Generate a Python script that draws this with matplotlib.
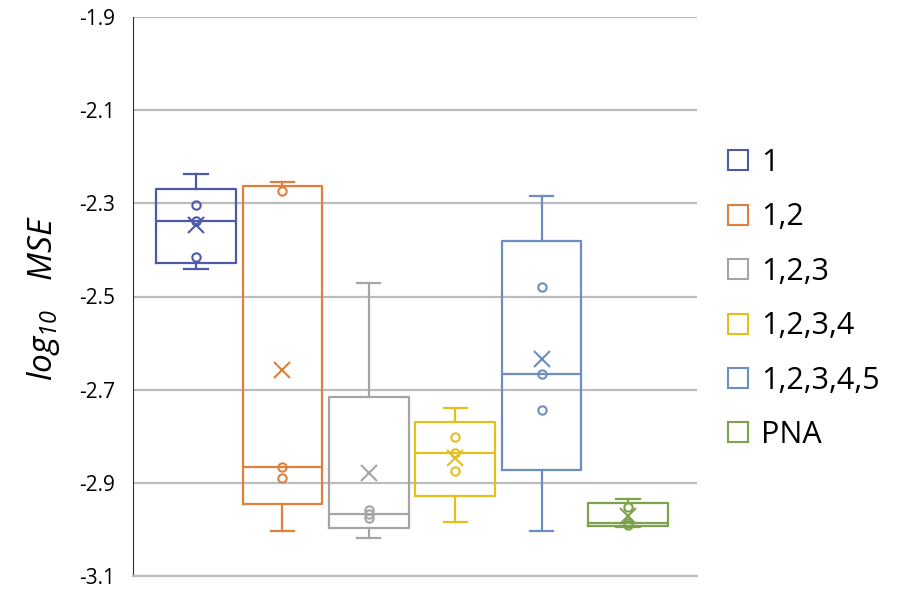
import matplotlib.pyplot as plt
import numpy as np
from matplotlib.lines import Line2D

plt.rcParams['font.family'] = ['Open Sans', 'DejaVu Sans']
plt.rcParams['mathtext.fontset'] = 'custom'
plt.rcParams['mathtext.it'] = 'Open Sans:italic'
plt.rcParams['mathtext.rm'] = 'Open Sans:italic'

# five runs per setting, log10 of the MSE
labels = ['1', '1,2', '1,2,3', '1,2,3,4', '1,2,3,4,5', 'PNA']
s1 = [-2.441, -2.415, -2.338, -2.303, -2.237]
s12 = [-3.003, -2.889, -2.866, -2.273, -2.254]
s123 = [-3.018, -2.976, -2.966, -2.959, -2.471]
s1234 = [-2.984, -2.874, -2.836, -2.801, -2.739]
s12345 = [-3.003, -2.743, -2.666, -2.479, -2.284]
spna = [-2.995, -2.990, -2.987, -2.952, -2.934]
series = [s1, s12, s123, s1234, s12345, spna]
colors = ['#4d5aa8', '#e0803c', '#a5a5a5', '#e3c01e', '#6a8fc0', '#7ca24a']

fig = plt.figure(figsize=(9.1, 5.94), dpi=100)
ax = fig.add_axes([133/910, 1-576/594, (697-133)/910, (576-17)/594])

for i, (d, c) in enumerate(zip(series, colors)):
    d = np.array(d)
    q1, med, q3 = np.percentile(d, [25, 50, 75], method='weibull')
    st = dict(med=med, q1=q1, q3=q3, whislo=d.min(), whishi=d.max(),
              mean=d.mean(), fliers=[], label=labels[i])
    pos = i + 1
    ax.bxp([st], positions=[pos], widths=0.92, capwidths=0.27,
           showfliers=False, showmeans=False, patch_artist=False,
           boxprops=dict(color=c, lw=1.6), whiskerprops=dict(color=c, lw=1.6),
           capprops=dict(color=c, lw=1.6), medianprops=dict(color=c, lw=1.6))
    inner = np.sort(d)[1:-1]
    ax.plot([pos]*len(inner), inner, 'o', ms=6, mfc='none', mec=c, mew=1.5)
    ax.plot(pos, d.mean(), 'x', ms=12, mec=c, mew=1.5)

ax.set_xlim(0.27, 6.8)
ax.set_ylim(-3.1, -1.9)
ax.set_yticks(np.arange(-3.1, -1.85, 0.2))
ax.set_yticklabels(['-3.1', '-2.9', '-2.7', '-2.5', '-2.3', '-2.1', '-1.9'])
ax.set_xticks([])
ax.tick_params(axis='y', length=0, pad=13, labelsize=15)
ax.yaxis.grid(True, color='#bcbcbc', lw=1.6)
ax.set_axisbelow(True)
for s in ['top', 'right']:
    ax.spines[s].set_visible(False)
ax.spines['left'].set_color('#303030')
ax.spines['bottom'].set_color('#bcbcbc')
ax.spines['bottom'].set_linewidth(1.6)

fig.text(43/910, 1-298/594, r'$log_{10}\ \ \ MSE$', rotation=90,
         ha='center', va='center', fontsize=24)

handles = [Line2D([], [], marker='s', ls='none', mfc='none', mec=c, ms=15, mew=1.5)
           for c in colors]
fig.legend(handles, labels, loc='center left', bbox_to_anchor=(726/910, 1-299/594),
           frameon=False, fontsize=22, handlelength=0.8, handletextpad=0.35,
           labelspacing=0.8, borderpad=0, borderaxespad=0)

fig.savefig('out.png', dpi=100)
